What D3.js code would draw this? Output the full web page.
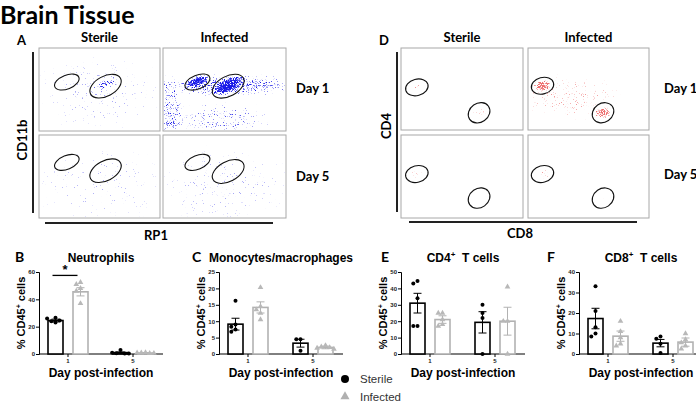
<!DOCTYPE html>
<html><head><meta charset="utf-8">
<script src="https://cdn.jsdelivr.net/npm/d3@7"></script>
<style>body{margin:0;background:#fff} svg{display:block}</style>
</head><body>
<svg id="c" width="696" height="404"></svg>
<script>
// ---------------- DATA ----------------
const days = ["1", "5"];
const groups = ["Sterile", "Infected"];
const panelTitles = ["Neutrophils", "Monocytes/macrophages", "CD4+ T cells", "CD8+ T cells"];
const panelLetters = ["B", "C", "E", "F"];
const yMax = [60, 25, 50, 40];
const yStep = [20, 5, 10, 10];
// [panel][day]
const sterileMean = [[24.5, 1.0], [9.1, 3.3], [31, 19.3], [17.3, 5.3]];
const sterileSem = [[1.0, 0.5], [1.8, 1.2], [6, 6.5], [5, 1.8]];
const infectedMean = [[45.5, 0.7], [14.2, 2.0], [21, 20], [8.7, 5.8]];
const infectedSem = [[3, 0.2], [1.7, 0.4], [2.3, 8.5], [2.5, 2.0]];
const sterilePts = [
  [[26.5, 24, 23, 24.5, 26], [3, 0.6, 0.4, 1, 0.4]],
  [[16.2, 9, 8.3, 7.5, 6.8], [4.5, 4.5, 1]],
  [[44.5, 43, 34, 17, 17], [30, 25, 22, 0]],
  [[33, 21, 13, 10, 8.5], [8.5, 7.5, 5, 0.5]]
];
const infectedPts = [
  [[52.5, 51, 48, 46, 37], [1, 0.8, 0.5, 0.9, 0.6]],
  [[20.3, 14.5, 13.5, 12.5, 10.5], [2.6, 2.2, 2, 1.8, 1.5]],
  [[25, 25, 21, 18, 17], [41, 20, 20, 0]],
  [[16, 11, 8, 5, 4], [10, 7, 5.5, 4, 2.5]]
];
const significance = [{panel: 0, day: "1", level: 57.5, label: "*"}];

// Flow cytometry plots: gates (fx, fy, rx, ry, rot) in box-fraction units, order: S d1, I d1, S d5, I d5
const flowCols = ["Sterile", "Infected"];
const flowRows = ["Day 1", "Day 5"];
const gatesA = [
  [[0.23, 0.41, 0.107, 0.083, -22], [0.55, 0.46, 0.14, 0.12, -28]],
  [[0.28, 0.41, 0.107, 0.083, -22], [0.53, 0.46, 0.14, 0.12, -28]],
  [[0.23, 0.33, 0.107, 0.083, -22], [0.55, 0.43, 0.14, 0.12, -28]],
  [[0.28, 0.33, 0.107, 0.083, -22], [0.53, 0.44, 0.14, 0.12, -28]]
];
const gatesD = [
  [[0.13, 0.48, 0.094, 0.10, -15], [0.64, 0.79, 0.094, 0.115, -35]],
  [[0.12, 0.46, 0.094, 0.10, -15], [0.62, 0.79, 0.094, 0.115, -35]],
  [[0.13, 0.47, 0.094, 0.10, -15], [0.64, 0.76, 0.094, 0.115, -35]],
  [[0.12, 0.47, 0.094, 0.10, -15], [0.62, 0.76, 0.094, 0.115, -35]]
];
// event density clusters: fx, fy, rx, ry, rot, density
const eventsA = [
  [[0.55, 0.44, 0.12, 0.07, -25, 0.45], [0.5, 0.55, 0.6, 0.5, 0, 0.14]],
  [[0.53, 0.45, 0.15, 0.09, -25, 1.0], [0.28, 0.40, 0.11, 0.07, -20, 0.9], [0.55, 0.45, 0.65, 0.15, 0, 0.55],
   [0.05, 0.75, 0.12, 0.45, 0, 0.42], [0.45, 0.85, 0.5, 0.22, 0, 0.32]],
  [[0.5, 0.6, 0.6, 0.5, 0, 0.13]],
  [[0.5, 0.6, 0.6, 0.5, 0, 0.15]]
];
const eventsD = [
  [[0.13, 0.48, 0.06, 0.06, 0, 0.3], [0.64, 0.79, 0.07, 0.07, 0, 0.3]],
  [[0.12, 0.46, 0.08, 0.08, 0, 0.85], [0.62, 0.79, 0.08, 0.08, 0, 0.8], [0.35, 0.6, 0.45, 0.3, 0, 0.28]],
  [[0.13, 0.47, 0.07, 0.06, 0, 0.25]],
  [[0.13, 0.47, 0.07, 0.06, 0, 0.28], [0.62, 0.76, 0.07, 0.06, 0, 0.2]]
];

// ---------------- DRAW ----------------
const svg = d3.select("#c");
const calib = "Lato, 'Open Sans', sans-serif";
const arial = "'Liberation Sans', Arial, sans-serif";
const defs = svg.append("defs");

const grad = defs.append("radialGradient").attr("id", "dens");
grad.append("stop").attr("offset", "0").attr("stop-color", "#000").attr("stop-opacity", 1);
grad.append("stop").attr("offset", "0.5").attr("stop-color", "#000").attr("stop-opacity", 0.75);
grad.append("stop").attr("offset", "1").attr("stop-color", "#000").attr("stop-opacity", 0);

function speckFilter(id, color, seed) {
  const f = defs.append("filter").attr("id", id).attr("filterUnits", "userSpaceOnUse")
    .attr("x", 0).attr("y", 0).attr("width", 696).attr("height", 404)
    .attr("color-interpolation-filters", "sRGB");
  f.append("feTurbulence").attr("type", "fractalNoise").attr("baseFrequency", 0.9)
    .attr("numOctaves", 2).attr("seed", seed).attr("result", "noise");
  f.append("feColorMatrix").attr("in", "noise").attr("type", "matrix")
    .attr("values", "0 0 0 0 0  0 0 0 0 0  0 0 0 0 0  1.8 0 0 0 -0.4").attr("result", "na");
  f.append("feComposite").attr("in", "na").attr("in2", "SourceAlpha").attr("operator", "arithmetic")
    .attr("k1", 0).attr("k2", 1).attr("k3", 1).attr("k4", -1.0).attr("result", "sum");
  const ct = f.append("feComponentTransfer").attr("in", "sum").attr("result", "thr");
  ct.append("feFuncA").attr("type", "linear").attr("slope", 3).attr("intercept", 0);
  f.append("feFlood").attr("flood-color", color).attr("result", "fl");
  f.append("feComposite").attr("in", "fl").attr("in2", "thr").attr("operator", "in");
}
speckFilter("speckA", "#1a1ae8", 5);
speckFilter("speckD", "#ee6f6f", 9);

// Title
svg.append("text").attr("x", 0).attr("y", 24).attr("font-family", calib)
  .attr("font-weight", 700).attr("font-size", 25).attr("fill", "#000").text("Brain Tissue");

const flowPanels = [
  {letter: "A", lx: 17, cols: [[39, 160], [163, 286]], rows: [[48, 131], [135, 218]],
   gates: gatesA, events: eventsA, filter: "speckA", dayX: 296, dayY: [93, 181],
   vx: 33, vy: [52, 213], hy: 223, hx: [45, 273], yLab: "CD11b", yLabPos: [22, 140], xLab: "RP1", xLabPos: [156, 240]},
  {letter: "D", lx: 379, cols: [[401, 523], [528, 649]], rows: [[48, 130], [135, 218]],
   gates: gatesD, events: eventsD, filter: "speckD", dayX: 664, dayY: [93, 179],
   vx: 397, vy: [52, 212], hy: 222, hx: [409, 637], yLab: "CD4", yLabPos: [386, 126], xLab: "CD8", xLabPos: [520, 238]}
];

flowPanels.forEach((fp, pi) => {
  const g = svg.append("g");
  g.append("text").attr("x", fp.lx).attr("y", 45).attr("font-family", calib).attr("font-weight", 700)
    .attr("font-size", 13).text(fp.letter);
  flowCols.forEach((c, ci) => {
    g.append("text").attr("x", (fp.cols[ci][0] + fp.cols[ci][1]) / 2 + 0).attr("y", 42)
      .attr("text-anchor", "middle").attr("font-family", calib).attr("font-weight", 700)
      .attr("font-size", 13).text(c);
  });
  flowRows.forEach((r, ri) => {
    g.append("text").attr("x", fp.dayX).attr("y", fp.dayY[ri]).attr("font-family", calib)
      .attr("font-weight", 700).attr("font-size", 13).text(r);
  });
  flowRows.forEach((r, ri) => {
    flowCols.forEach((c, ci) => {
      const k = ri * 2 + ci;
      const [x0, x1] = fp.cols[ci], [y0, y1] = fp.rows[ri];
      const sx = d3.scaleLinear().domain([0, 1]).range([x0, x1]);
      const sy = d3.scaleLinear().domain([0, 1]).range([y0, y1]);
      const w = x1 - x0, h = y1 - y0;
      const cid = `clip${pi}_${k}`;
      defs.append("clipPath").attr("id", cid).append("rect")
        .attr("x", x0 + 1).attr("y", y0 + 1).attr("width", w - 2).attr("height", h - 2);
      g.append("rect").attr("x", x0).attr("y", y0).attr("width", w).attr("height", h)
        .attr("fill", "#fff").attr("stroke", "#a8a8a8").attr("stroke-width", 1);
      const ev = g.append("g").attr("clip-path", `url(#${cid})`).append("g").attr("filter", `url(#${fp.filter})`);
      ev.append("rect").attr("x", x0).attr("y", y0).attr("width", w).attr("height", h).attr("fill", "#000").attr("fill-opacity", 0.001);
      ev.selectAll("ellipse").data(fp.events[k]).join("ellipse")
        .attr("cx", 0).attr("cy", 0).attr("rx", d => d[2] * w).attr("ry", d => d[3] * h)
        .attr("transform", d => `translate(${sx(d[0])},${sy(d[1])}) rotate(${d[4]})`)
        .attr("fill", "url(#dens)").attr("fill-opacity", d => d[5]);
      g.selectAll(null).data(fp.gates[k]).join("ellipse")
        .attr("cx", 0).attr("cy", 0).attr("rx", d => d[2] * w).attr("ry", d => d[3] * h)
        .attr("transform", d => `translate(${sx(d[0])},${sy(d[1])}) rotate(${d[4]})`)
        .attr("fill", "none").attr("stroke", "#111").attr("stroke-width", 1.1);
    });
  });
  g.append("line").attr("x1", fp.vx).attr("x2", fp.vx).attr("y1", fp.vy[0]).attr("y2", fp.vy[1])
    .attr("stroke", "#222").attr("stroke-width", 2);
  g.append("line").attr("x1", fp.hx[0]).attr("x2", fp.hx[1]).attr("y1", fp.hy).attr("y2", fp.hy)
    .attr("stroke", "#222").attr("stroke-width", 2);
  g.append("text").attr("transform", `translate(${fp.yLabPos[0] + 5},${fp.yLabPos[1]}) rotate(-90)`)
    .attr("text-anchor", "middle").attr("font-family", calib).attr("font-weight", 700)
    .attr("font-size", 13).text(fp.yLab);
  g.append("text").attr("x", fp.xLabPos[0]).attr("y", fp.xLabPos[1]).attr("text-anchor", "middle")
    .attr("font-family", calib).attr("font-weight", 700).attr("font-size", 13).text(fp.xLab);
});

// ---------- bar charts ----------
const chartX0 = [39, 219, 401, 579];
const letterX = [15, 192, 381, 547];
const yTop = 272, yBot = 354, plotW = 124;
const sterileCol = "#000", infectedCol = "#b2b2b2";

function addSup(sel, text, size, supSize) {
  const parts = text.split("+");
  sel.append("tspan").text(parts[0]);
  if (parts.length > 1) {
    sel.append("tspan").attr("font-size", supSize).attr("dy", -size * 0.38).text("+");
    sel.append("tspan").attr("dy", size * 0.38).text("\u00a0" + parts[1]);
  }
}

function dodge(vals, yScale, cx) {
  const placed = [];
  return vals.map(v => {
    const py = yScale(v);
    const cands = [0, -4.2, 4.2, -8.4, 8.4];
    let off = 0;
    for (const c of cands) {
      if (placed.every(p => Math.hypot(p[0] - c, p[1] - py) >= 4.2)) { off = c; break; }
    }
    placed.push([off, py]);
    return [cx + off, py];
  });
}

panelTitles.forEach((title, p) => {
  const x0 = chartX0[p];
  const g = svg.append("g");
  const y = d3.scaleLinear().domain([0, yMax[p]]).range([yBot, yTop]);
  const x = d3.scaleBand().domain(days).range([x0 - 3.5, x0 + 126.5]);
  const xi = d3.scaleBand().domain(groups).range([-20, 20]).paddingInner(0.4);
  const cx = d => x(d) + x.bandwidth() / 2;

  // letter & title
  g.append("text").attr("x", letterX[p]).attr("y", 262).attr("font-family", calib).attr("font-weight", 700)
    .attr("font-size", 14).text(panelLetters[p]);
  const t = g.append("text").attr("x", x0 + plotW / 2).attr("y", 262).attr("text-anchor", "middle")
    .attr("font-family", arial).attr("font-weight", 700).attr("font-size", 12);
  addSup(t, title, 12, 8);

  // y axis
  const ya = d3.axisLeft(y).tickValues(d3.range(0, yMax[p] + 0.001, yStep[p])).tickSize(3).tickPadding(1);
  const yg = g.append("g").attr("transform", `translate(${x0},0)`).call(ya);
  yg.select(".domain").attr("stroke", "#000").attr("stroke-width", 1);
  yg.selectAll(".tick line").attr("stroke", "#000");
  yg.selectAll(".tick text").attr("font-family", arial).attr("font-weight", 700).attr("font-size", 6).attr("fill", "#222");

  // x axis
  const xa = d3.axisBottom(x).tickSize(3).tickPadding(2);
  const xg = g.append("g").attr("transform", `translate(0,${yBot})`).call(xa);
  xg.select(".domain").remove();
  xg.selectAll(".tick line").attr("stroke", "#000");
  xg.selectAll(".tick text").attr("font-family", arial).attr("font-weight", 700).attr("font-size", 6).attr("fill", "#222");
  g.append("line").attr("x1", x0).attr("x2", x0 + plotW).attr("y1", yBot).attr("y2", yBot).attr("stroke", "#000");

  // y label
  const yl = g.append("text").attr("transform", `translate(${x0 - 14},${(yTop + yBot) / 2}) rotate(-90)`)
    .attr("text-anchor", "middle").attr("font-family", arial).attr("font-weight", 700).attr("font-size", 11);
  addSup(yl, "% CD45+cells", 11, 7);
  // x label
  g.append("text").attr("x", x0 + plotW / 2).attr("y", 377).attr("text-anchor", "middle")
    .attr("font-family", arial).attr("font-weight", 700).attr("font-size", 12).text("Day post-infection");

  const series = [
    {grp: "Sterile", mean: sterileMean[p], sem: sterileSem[p], pts: sterilePts[p], col: sterileCol},
    {grp: "Infected", mean: infectedMean[p], sem: infectedSem[p], pts: infectedPts[p], col: infectedCol}
  ];
  series.forEach(s => {
    days.forEach((d, di) => {
      const bx = cx(d) + xi(s.grp);
      const bw = xi.bandwidth();
      const m = s.mean[di], e = s.sem[di];
      g.append("rect").attr("x", bx).attr("y", y(m)).attr("width", bw).attr("height", yBot - y(m))
        .attr("fill", "#fff").attr("stroke", s.col).attr("stroke-width", 1.6);
      const mx = bx + bw / 2;
      g.append("line").attr("x1", mx).attr("x2", mx).attr("y1", y(Math.max(0, m - e))).attr("y2", y(m + e))
        .attr("stroke", s.col).attr("stroke-width", 1);
      [m + e, Math.max(0, m - e)].forEach(v => {
        g.append("line").attr("x1", mx - 4).attr("x2", mx + 4).attr("y1", y(v)).attr("y2", y(v))
          .attr("stroke", s.col).attr("stroke-width", 1);
      });
      const pos = dodge(s.pts[di], y, mx);
      if (s.grp === "Sterile") {
        g.selectAll(null).data(pos).join("circle").attr("cx", q => q[0]).attr("cy", q => q[1])
          .attr("r", 2).attr("fill", "#000");
      } else {
        g.selectAll(null).data(pos).join("path").attr("d", d3.symbol(d3.symbolTriangle, 14))
          .attr("transform", q => `translate(${q[0]},${q[1]})`).attr("fill", "#b8b8b8");
      }
    });
  });

  significance.filter(s => s.panel === p).forEach(s => {
    const xa1 = cx(s.day) + xi("Sterile") + xi.bandwidth() / 2;
    const xa2 = cx(s.day) + xi("Infected") + xi.bandwidth() / 2;
    g.append("line").attr("x1", xa1 - 3).attr("x2", xa2 - 3).attr("y1", y(s.level)).attr("y2", y(s.level))
      .attr("stroke", "#000").attr("stroke-width", 1.3);
    g.append("text").attr("x", (xa1 + xa2) / 2 - 3).attr("y", y(s.level) - 1).attr("text-anchor", "middle")
      .attr("font-family", arial).attr("font-weight", 700).attr("font-size", 13).text(s.label);
  });
});

// legend
const lg = svg.append("g").attr("font-family", arial).attr("font-size", 11.5).attr("fill", "#333");
groups.forEach((gname, i) => {
  const ly = 379 + i * 17.5;
  if (i === 0) lg.append("circle").attr("cx", 345).attr("cy", ly).attr("r", 4).attr("fill", "#000");
  else lg.append("path").attr("d", d3.symbol(d3.symbolTriangle, 36)).attr("transform", `translate(345,${ly})`).attr("fill", "#b0b0b0");
  lg.append("text").attr("x", 360).attr("y", ly + 4).text(gname);
});
</script>
</body></html>
